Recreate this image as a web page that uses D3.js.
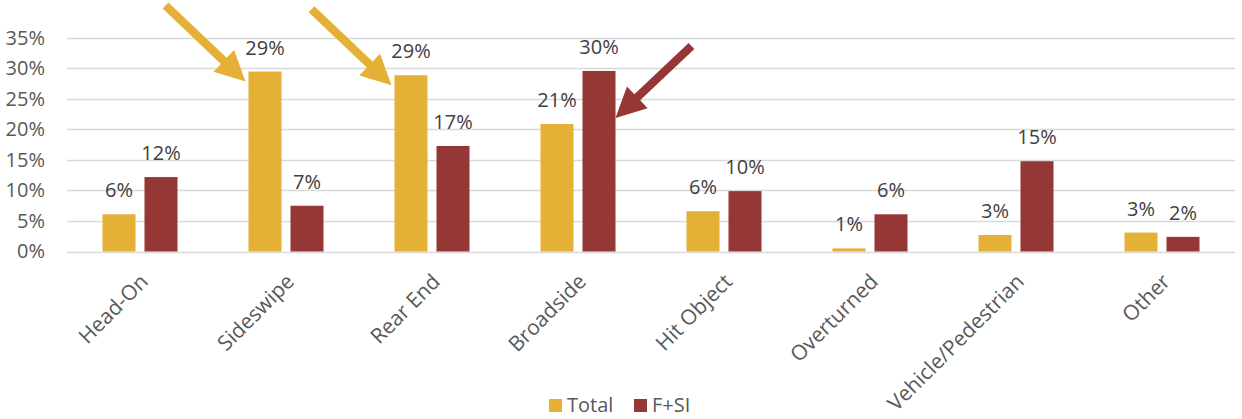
<!DOCTYPE html>
<html>
<head>
<meta charset="utf-8">
<script src="https://cdn.jsdelivr.net/npm/d3@7"></script>
<style>
  body { margin: 0; background: #fff; }
  svg { display: block; font-family: "Open Sans", sans-serif; }
</style>
</head>
<body>
<div id="chart"></div>
<script>
const categories = ["Head-On", "Sideswipe", "Rear End", "Broadside", "Hit Object", "Overturned", "Vehicle/Pedestrian", "Other"];
const seriesNames = ["Total", "F+SI"];
const totalValues = [0.061, 0.295, 0.289, 0.209, 0.066, 0.005, 0.027, 0.031];
const fsiValues   = [0.122, 0.075, 0.173, 0.296, 0.099, 0.061, 0.148, 0.024];
const totalLabels = ["6%", "29%", "29%", "21%", "6%", "1%", "3%", "3%"];
const fsiLabels   = ["12%", "7%", "17%", "30%", "10%", "6%", "15%", "2%"];
const yTicks = [0, 0.05, 0.10, 0.15, 0.20, 0.25, 0.30, 0.35];
// arrows point at these bars: [category, series]
const arrowTargets = [["Sideswipe", "Total"], ["Rear End", "Total"], ["Broadside", "F+SI"]];

const colors = { "Total": "#E4B036", "F+SI": "#953735" };

const width = 1242, height = 419;
const margin = { top: 38, right: 7, bottom: 167.5, left: 67 };
const groupW = 75;

const svg = d3.select("#chart").append("svg")
  .attr("width", width)
  .attr("height", height);

const x0 = d3.scaleBand()
  .domain(categories)
  .range([margin.left, width - margin.right]);

const x1 = d3.scaleBand()
  .domain(seriesNames)
  .range([0, groupW])
  .paddingInner(0.214);

const y = d3.scaleLinear()
  .domain([0, 0.35])
  .range([height - margin.bottom, margin.top]);

// gridlines
svg.append("g")
  .selectAll("line")
  .data(yTicks)
  .join("line")
  .attr("x1", margin.left)
  .attr("x2", width - margin.right)
  .attr("y1", d => Math.round(y(d)) + 0.5)
  .attr("y2", d => Math.round(y(d)) + 0.5)
  .attr("stroke", "#D9D9D9")
  .attr("stroke-width", 1.3);

// y axis labels
const yAxis = svg.append("g")
  .attr("transform", `translate(${margin.left - 22},0)`)
  .call(d3.axisLeft(y).tickValues(yTicks).tickFormat(d3.format(".0%")).tickSize(0).tickPadding(0));
yAxis.select(".domain").remove();
yAxis.selectAll("text")
  .attr("fill", "#595959")
  .style("font-size", "20px")
  .style("font-family", "Open Sans, sans-serif");

const rows = categories.map((c, i) => ({
  cat: c,
  vals: [
    { s: "Total", v: totalValues[i], label: totalLabels[i] },
    { s: "F+SI", v: fsiValues[i], label: fsiLabels[i] }
  ]
}));

const groups = svg.append("g")
  .selectAll("g")
  .data(rows)
  .join("g")
  .attr("transform", d => `translate(${x0(d.cat) + x0.bandwidth() / 2 - groupW / 2},0)`);

groups.selectAll("rect")
  .data(d => d.vals)
  .join("rect")
  .attr("x", d => x1(d.s))
  .attr("y", d => y(d.v))
  .attr("width", x1.bandwidth())
  .attr("height", d => y(0) - y(d.v))
  .attr("fill", d => colors[d.s]);

groups.selectAll("text")
  .data(d => d.vals)
  .join("text")
  .attr("x", d => x1(d.s) + x1.bandwidth() / 2)
  .attr("y", d => y(d.v) - 17)
  .attr("text-anchor", "middle")
  .attr("fill", "#404040")
  .style("font-size", "20px")
  .text(d => d.label);

// x axis labels, rotated
svg.append("g")
  .selectAll("text")
  .data(categories)
  .join("text")
  .attr("transform", d => `translate(${x0(d) + x0.bandwidth() / 2 - 3},${y(0) + 19}) rotate(-45)`)
  .attr("text-anchor", "end")
  .attr("dominant-baseline", "hanging")
  .attr("fill", "#595959")
  .style("font-size", "21px")
  .text(d => d);

// arrows
const barLeft = (c, s) => x0(c) + x0.bandwidth() / 2 - groupW / 2 + x1(s);
function arrow(tipX, tipY, dx, dy, color) {
  const len = Math.hypot(dx, dy);
  const ux = dx / len, uy = dy / len;   // direction from start to tip
  const px = -uy, py = ux;
  const headLen = 30, headW = 15, shaft = 4.2;
  const bx = tipX - ux * headLen, by = tipY - uy * headLen;
  const sx = tipX - dx, sy = tipY - dy;
  const pts = [
    [sx + px * shaft, sy + py * shaft],
    [bx + px * shaft, by + py * shaft],
    [bx + px * headW, by + py * headW],
    [tipX, tipY],
    [bx - px * headW, by - py * headW],
    [bx - px * shaft, by - py * shaft],
    [sx - px * shaft, sy - py * shaft]
  ];
  svg.append("path")
    .attr("d", d3.line()(pts) + "Z")
    .attr("fill", color);
}
arrowTargets.forEach(([c, s]) => {
  const i = categories.indexOf(c);
  const v = s === "Total" ? totalValues[i] : fsiValues[i];
  if (s === "Total") {
    arrow(barLeft(c, s) - 3, y(v) + 10, 80, 76, colors[s]);
  } else {
    arrow(barLeft(c, s) + x1.bandwidth(), y(v) + 47, -76, 72, colors[s]);
  }
});

// legend
const legend = svg.append("g")
  .attr("transform", `translate(549,399)`);
const li = legend.selectAll("g")
  .data(seriesNames)
  .join("g")
  .attr("transform", (d, i) => `translate(${i * 85},0)`);
li.append("rect")
  .attr("width", 13)
  .attr("height", 13)
  .attr("fill", d => colors[d]);
li.append("text")
  .attr("x", 18)
  .attr("y", 13)
  .attr("fill", "#595959")
  .style("font-size", "20px")
  .text(d => d);
</script>
</body>
</html>
